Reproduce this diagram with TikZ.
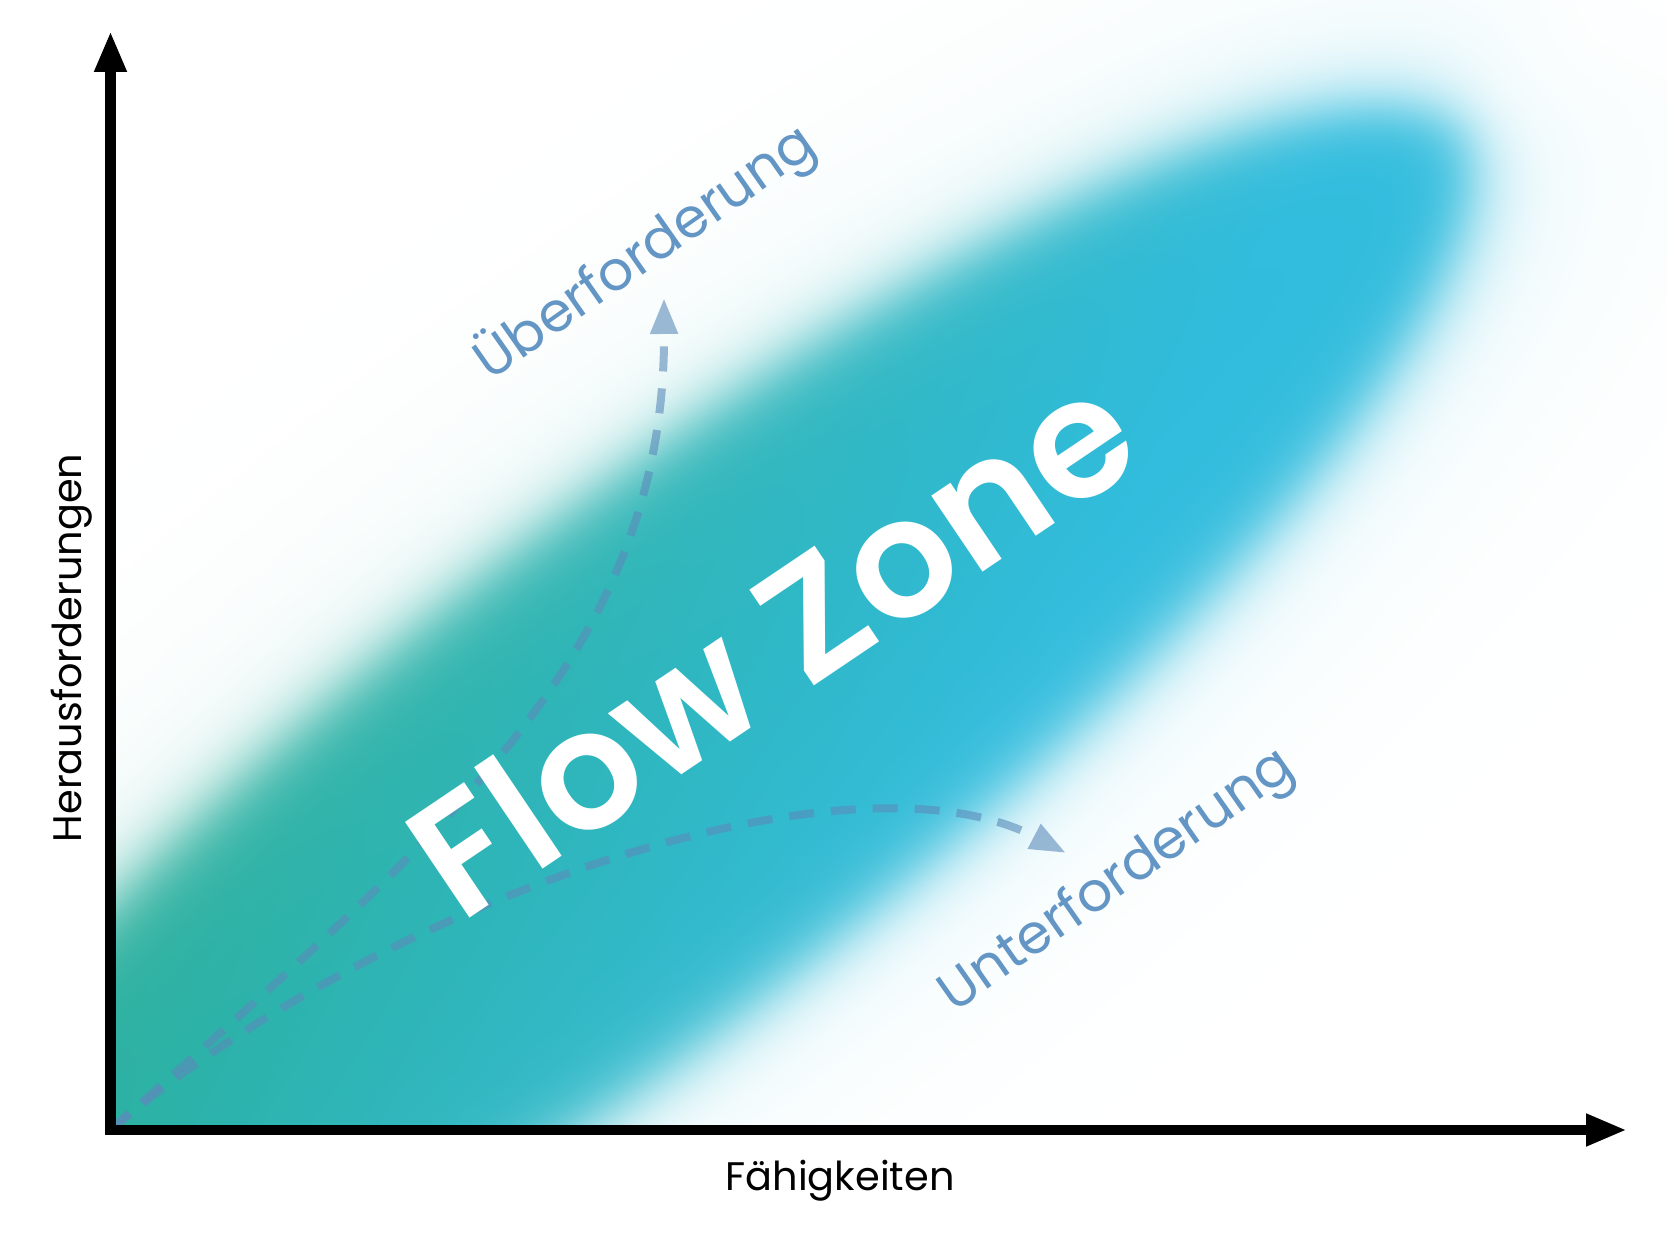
\documentclass[tikz,border=0pt]{standalone}
\usepackage{fontspec}
\setmainfont{Poppins}
\newfontfamily\flowfont{Poppins}[UprightFont={* SemiBold}]
\usetikzlibrary{arrows.meta}
\definecolor{lblblue}{RGB}{99,150,196}
\definecolor{arrowblue}{RGB}{91,139,186}
% blurred elliptic flow zone: white -> green/blue gradient, computed per point
\pgfdeclarefunctionalshading{blobfun}{\pgfpoint{0bp}{0bp}}{\pgfpoint{1667bp}{1250bp}}{}{
 470.83 sub exch 631.67 sub
 1 index 0.6157 mul 1 index 0.7880 mul add
 2 index 0.7880 mul 2 index 0.6157 mul sub
 exch 1050 div exch 254 div
 1 index dup mul 1 index dup mul add sqrt
 2 index 1050 div dup mul 2 index 254 div dup mul add sqrt 0.000001 add
 1 index 1 sub 2 index mul exch div
 exch pop 3 1 roll pop pop
 dup 2000 gt {pop 2000} if dup -2000 lt {pop -2000} if
 dup 0.05319 mul 2.71828 exch exp 1 add 0.9 exch div
 exch 40 sub 0.01418 mul 2.71828 exch exp 1 add 0.1 exch div add
 2 index -0.454 mul 2 index 0.891 mul add 378.8 add 700 div
 dup 0 lt {pop 0} if dup 1 gt {pop 1} if
 dup -0.0197 mul 0.8275 add 2 index mul 1 exch sub
 1 index -0.0471 mul 0.3098 add 3 index mul 1 exch sub
 2 index -0.2471 mul 0.3804 add 4 index mul 1 exch sub
 7 3 roll pop pop pop pop
}
\tikzset{
  axisline/.style={line width=10.5bp, line join=miter,
    {Triangle[length=41bp,width=30bp]}-{Triangle[length=41bp,width=30bp]}},
  flowarrow/.style={line width=8bp, draw=arrowblue,
    dash pattern=on 25bp off 17bp, -{Triangle[length=36bp,width=26bp]}},
  faded/.style={transparency group, opacity=0.6},
  lbl/.style={text=lblblue, font=\fontsize{55}{58}\selectfont, inner sep=0pt},
  axislabel/.style={text=black, font=\fontsize{40}{42}\selectfont, inner sep=0pt},
  flowtext/.style={text=white, font=\flowfont\fontsize{166}{170}\selectfont, inner sep=0pt}
}
\begin{document}
\begin{tikzpicture}[x=1bp,y=1bp]
\useasboundingbox (0,0) rectangle (1667,1250);
\fill[white] (0,0) rectangle (1667,1250);

% coordinates
\coordinate (O) at (110.5,120);
\coordinate (ytip) at (110.5,1219);
\coordinate (xtip) at (1627,120);
\coordinate (uberTip) at (664,952);
\coordinate (unterTip) at (1066,397);

% blurred flow blob, clipped to the plot area
\begin{scope}
  \clip (110.5,120) rectangle (1667,1250);
  \node[inner sep=0pt, outer sep=0pt, anchor=south west] (blob) at (0,0) {\pgfuseshading{blobfun}};
\end{scope}

% dashed arrows
\begin{scope}[faded]
  \draw[flowarrow] (O) .. controls (450,420) and (665,600) .. (uberTip);
\end{scope}
\begin{scope}[faded]
  \draw[flowarrow] (O) .. controls (380,350) and (850,510) .. (unterTip);
\end{scope}

% texts
\node[flowtext, rotate=34] (flow) at (771,608) {Flow Zone};
\node[lbl, rotate=35] (ueber) at (645,997) {Überforderung};
\node[lbl, rotate=35] (unter) at (1118,368) {Unterforderung};
\node[axislabel, rotate=90, anchor=base] (ylab) at (81,602) {Herausforderungen};
\node[axislabel, anchor=base] (xlab) at (840,60) {Fähigkeiten};

% axes
\draw[axisline] (ytip) -- (O) -- (xtip);
\end{tikzpicture}
\end{document}
